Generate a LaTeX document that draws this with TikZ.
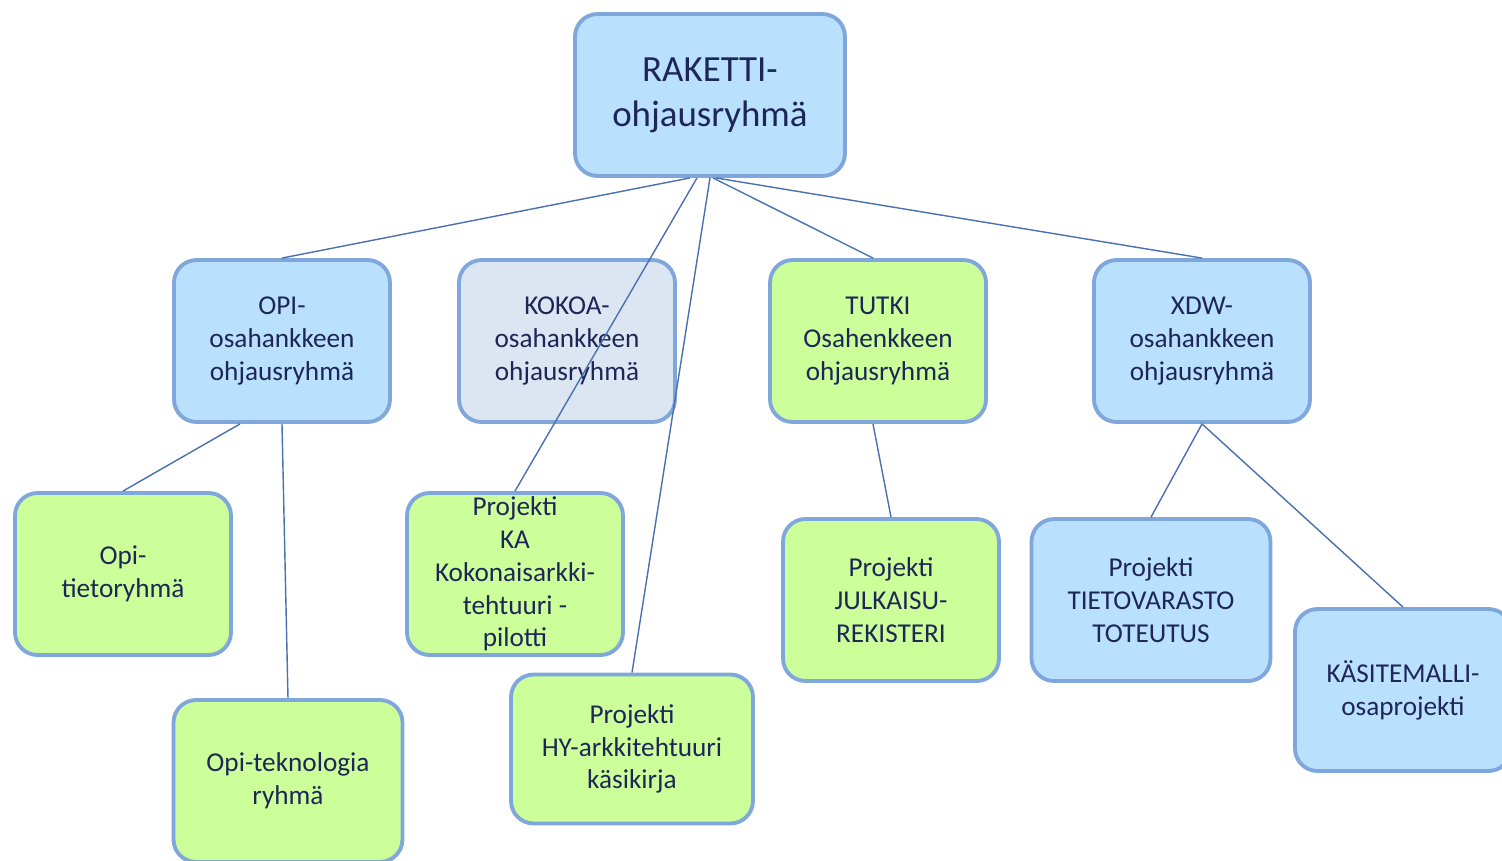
\documentclass[tikz,border=0pt]{standalone}
\usepackage{fontspec}
\setmainfont{Carlito}
\definecolor{bluefill}{RGB}{185,224,253}
\definecolor{greenfill}{RGB}{204,255,153}
\definecolor{greyfill}{RGB}{220,230,242}
\definecolor{boxline}{RGB}{127,167,220}
\definecolor{linkcol}{RGB}{74,112,176}
\definecolor{txt}{RGB}{30,38,88}

\begin{document}
\begin{tikzpicture}[x=0.02cm,y=-0.02cm,
    box/.style={draw=boxline,line width=2.2pt,rounded corners=0.45cm,align=center,
      text=txt,font=\fontsize{15.5}{18.7}\selectfont,minimum width=4.32cm,minimum height=3.24cm,inner sep=2pt},
    blue box/.style={box,fill=bluefill},
    green box/.style={box,fill=greenfill},
    grey box/.style={box,fill=greyfill},
    link/.style={draw=linkcol,line width=0.8pt}]

  \useasboundingbox (0,0) rectangle (1502,860);

  \node[blue box,minimum width=5.4cm,font=\fontsize{21}{25.5}\selectfont] (raketti) at (710,95) {RAKETTI-\\ohjausryhmä};

  \node[blue box] (opi) at (282,341) {OPI-\\osahankkeen\\ohjausryhmä};
  \node[grey box] (kokoa) at (567,341) {KOKOA-\\osahankkeen\\ohjausryhmä};
  \node[green box] (tutki) at (878,341) {TUTKI\\Osahenkkeen\\ohjausryhmä};
  \node[blue box] (xdw) at (1202,341) {XDW-\\osahankkeen\\ohjausryhmä};

  \node[green box] (opitieto) at (123,574) {Opi-\\tietoryhmä};
  \node[green box,minimum width=4.58cm] (opitekno) at (288,781) {Opi-teknologia\\ryhmä};
  \node[green box] (ka) at (515,574) {Projekti\\KA\\Kokonaisarkki-\\tehtuuri -\\pilotti};
  \node[green box,minimum width=4.84cm,minimum height=2.98cm] (hy) at (632,749) {Projekti\\HY-arkkitehtuuri\\käsikirja};
  \node[green box] (julkaisu) at (891,600) {Projekti\\JULKAISU-\\REKISTERI};
  \node[blue box,minimum width=4.78cm] (tietovarasto) at (1151,600) {Projekti\\TIETOVARASTO\\TOTEUTUS};
  \node[blue box] (kasite) at (1403,690) {KÄSITEMALLI-\\osaprojekti};

  % yhteydet
  \path[link] ([xshift=-0.4cm]raketti.south) edge (opi.north)
              ([xshift=-0.26cm]raketti.south) edge (ka.north)
              (raketti.south) edge (hy.north)
              ([xshift=0.06cm]raketti.south) edge ([xshift=-0.1cm]tutki.north)
              ([xshift=0.12cm]raketti.south) edge (xdw.north);
  \path[link] ([xshift=-0.84cm]opi.south) edge (opitieto.north)
              (opi.south) edge (opitekno.north)
              ([xshift=-0.1cm]tutki.south) edge (julkaisu.north)
              (xdw.south) edge (tietovarasto.north)
              (xdw.south) edge (kasite.north);

\end{tikzpicture}
\end{document}
